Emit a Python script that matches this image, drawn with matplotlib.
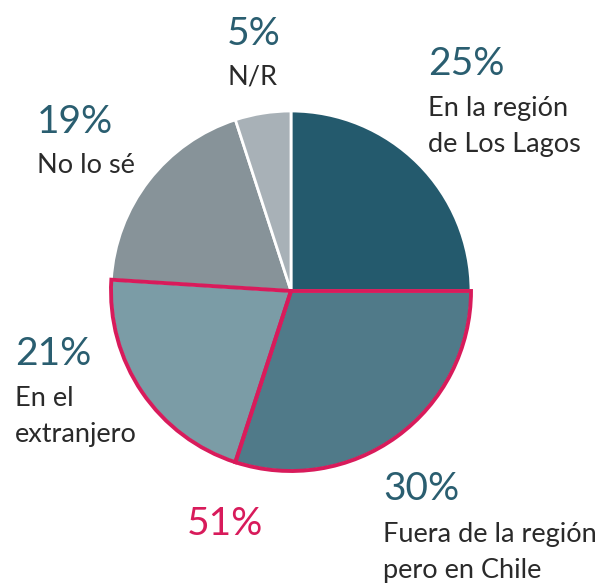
import matplotlib.pyplot as plt
from matplotlib.patches import Wedge

# datos (orden horario desde arriba)
shares = [25, 30, 21, 19, 5]
pct_labels = ['25%', '30%', '21%', '19%', '5%']
cat_labels = ['En la región\nde Los Lagos', 'Fuera de la región\npero en Chile',
              'En el\nextranjero', 'No lo sé', 'N/R']
colors = ['#245a6d', '#507a89', '#7b9ca6', '#879399', '#a8b1b7']
highlight = [1, 2]          # slices inside the 51% group
highlight_label = '51%'

TEAL = '#2a5e70'
DARK = '#2a2a2a'
CRIMSON = '#d81b5b'

plt.rcParams['font.family'] = ['Lato', 'DejaVu Sans']

W, H = 602, 588
fig = plt.figure(figsize=(W / 100, H / 100), dpi=100)
ax = fig.add_axes([0, 0, 1, 1])

def yy(y):
    # pixel row (from top) -> data y
    return H - y

cx, cy, r = 291, 291, 180
wedges, _ = ax.pie(shares, colors=colors, startangle=90, counterclock=False,
                   center=(cx, yy(cy)), radius=r,
                   wedgeprops=dict(edgecolor='white', linewidth=2))
ax.set_xlim(0, W)
ax.set_ylim(0, H)
ax.set_aspect('equal')
ax.axis('off')

# contorno del grupo 51%
for i in highlight:
    w = wedges[i]
    ax.add_patch(Wedge(w.center, w.r, w.theta1, w.theta2, fill=False,
                       edgecolor=CRIMSON, linewidth=2.8, zorder=5))

# textos: (x, baseline del %, baseline de la primera línea)
text_pos = [(428, 75, 116), (383, 500, 542), (15, 365, 406),
            (37, 133, 173), (227, 45, 85)]
line_gap = 36
for (x, yp, yl), p, lab in zip(text_pos, pct_labels, cat_labels):
    ax.text(x, yy(yp), p, fontsize=28, color=TEAL, va='baseline', ha='left')
    for k, line in enumerate(lab.split('\n')):
        ax.text(x, yy(yl + k * line_gap), line, fontsize=19.5, color=DARK,
                va='baseline', ha='left')

ax.text(187, yy(535), highlight_label, fontsize=28, color=CRIMSON,
        va='baseline', ha='left')

fig.savefig('out.png', dpi=100)
